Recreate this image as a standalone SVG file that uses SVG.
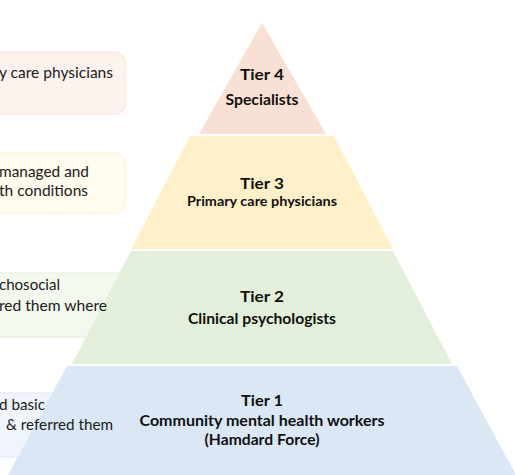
<svg xmlns="http://www.w3.org/2000/svg" width="515" height="475" viewBox="0 0 515 475">
<style>
.lt{font-family:Lato,"Liberation Sans",Arial,sans-serif;font-size:15px;fill:#1a1a1a}
.tt{font-family:Lato,"Liberation Sans",Arial,sans-serif;font-size:15px;font-weight:bold;fill:#111;text-anchor:middle}
.ts{font-size:13px}
</style>
<rect width="515" height="475" fill="#ffffff"/>
<g id="box4"><rect x="-20" y="52" width="145" height="62" rx="10" fill="#FDF3EE" stroke="#F9E1D4" stroke-width="1"/></g>
<g id="box3"><rect x="-20" y="153" width="145" height="60" rx="10" fill="#FFFBEF" stroke="#FCF0CE" stroke-width="1"/></g>
<g id="box2"><rect x="-20" y="273" width="200" height="64" rx="10" fill="#F4F9F0" stroke="#E3EFDA" stroke-width="1"/></g>
<g id="box1"><rect x="-20" y="393" width="200" height="64" rx="10" fill="#F0F5FB" stroke="#DCE7F3" stroke-width="1"/></g>
<g id="tier4"><polygon points="262,23 326,134 199,134" fill="#F8E1D4"/>
<text class="tt" x="262" y="80" textLength="44" lengthAdjust="spacingAndGlyphs">Tier 4</text>
<text class="tt" x="262" y="105" textLength="73" lengthAdjust="spacingAndGlyphs">Specialists</text></g>
<g id="tier3"><polygon points="190,136 334,136 393,249 131,249" fill="#FEF1CA"/>
<text class="tt" x="262" y="189" textLength="44" lengthAdjust="spacingAndGlyphs">Tier 3</text>
<text class="tt ts" x="262" y="206" textLength="150" lengthAdjust="spacingAndGlyphs">Primary care physicians</text></g>
<g id="tier2"><polygon points="131,251 393,251 452,364 72,364" fill="#E3EFDA"/>
<text class="tt" x="262" y="302" textLength="44" lengthAdjust="spacingAndGlyphs">Tier 2</text>
<text class="tt" x="262" y="324" textLength="148" lengthAdjust="spacingAndGlyphs">Clinical psychologists</text></g>
<g id="tier1"><polygon points="67,366 457,366 516,475 8,475" fill="#DBE7F4"/>
<text class="tt" x="262" y="406" textLength="42" lengthAdjust="spacingAndGlyphs">Tier 1</text>
<text class="tt" x="262" y="426" textLength="245" lengthAdjust="spacingAndGlyphs">Community mental health workers</text>
<text class="tt" x="262" y="445" textLength="115" lengthAdjust="spacingAndGlyphs">(Hamdard Force)</text></g>
<g id="box-texts">
<text class="lt" x="-1" y="78" textLength="114" lengthAdjust="spacingAndGlyphs">y care physicians</text>
<text class="lt" x="-1" y="177" textLength="90" lengthAdjust="spacingAndGlyphs">managed and</text>
<text class="lt" x="-1" y="196" textLength="89" lengthAdjust="spacingAndGlyphs">th conditions</text>
<text class="lt" x="-1" y="290" textLength="61" lengthAdjust="spacingAndGlyphs">chosocial</text>
<text class="lt" x="-1" y="311" textLength="108" lengthAdjust="spacingAndGlyphs">red them where</text>
<text class="lt" x="-1" y="410" textLength="46" lengthAdjust="spacingAndGlyphs">d basic</text>
<text class="lt" x="6" y="430" textLength="107" lengthAdjust="spacingAndGlyphs">&amp; referred them</text>
</g>
<g id="connectors"></g>
</svg>
